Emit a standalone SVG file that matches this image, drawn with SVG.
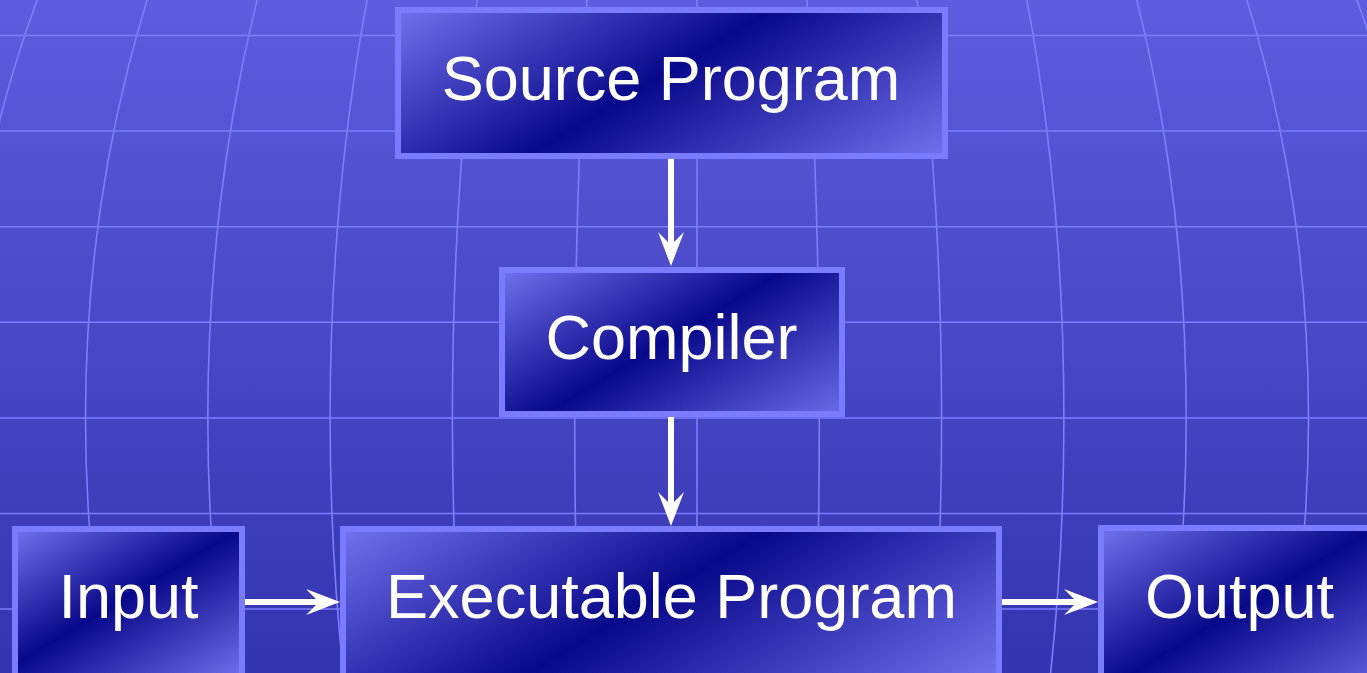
<svg xmlns="http://www.w3.org/2000/svg" width="1367" height="673" viewBox="0 0 1367 673">
  <style>
    .grid { fill: none; stroke: #7d7dff; stroke-width: 1.6; }
    .box { stroke: #7b7bff; stroke-width: 6; }
    .label { font-family: "Liberation Sans", Arial, sans-serif; font-size: 63px; fill: #ffffff; text-anchor: middle; }
    .wire { stroke: #ffffff; stroke-width: 6; fill: none; }
  </style>
  <defs>
    <linearGradient id="sky" x1="0" y1="0" x2="0" y2="1">
      <stop offset="0" stop-color="#5d5ddd"/>
      <stop offset="1" stop-color="#3434b0"/>
    </linearGradient>
    <!-- shared stops for the node fills: light corners, navy band across the middle -->
    <linearGradient id="nodeFill">
      <stop offset="0" stop-color="#7272ee"/>
      <stop offset="0.47" stop-color="#08088a"/>
      <stop offset="1" stop-color="#7272ee"/>
    </linearGradient>
    <linearGradient id="fillSource" href="#nodeFill" gradientUnits="userSpaceOnUse" x1="398" y1="10" x2="608" y2="360"/>
    <linearGradient id="fillCompiler" href="#nodeFill" gradientUnits="userSpaceOnUse" x1="502" y1="270" x2="661" y2="535"/>
    <linearGradient id="fillInput" href="#nodeFill" gradientUnits="userSpaceOnUse" x1="15" y1="529" x2="142" y2="740"/>
    <linearGradient id="fillExec" href="#nodeFill" gradientUnits="userSpaceOnUse" x1="343" y1="529" x2="583" y2="929"/>
    <linearGradient id="fillOutput" href="#nodeFill" gradientUnits="userSpaceOnUse" x1="1101" y1="528" x2="1255" y2="785"/>
    <marker id="head" markerUnits="userSpaceOnUse" viewBox="0 0 34 26" markerWidth="34" markerHeight="26" refX="13" refY="13" orient="auto">
      <path d="M34,13 L0,0 L13,13 L0,26 Z" fill="#ffffff"/>
    </marker>
  </defs>

  <!-- backdrop with curved globe-style grid -->
  <g id="background">
    <rect x="0" y="0" width="1367" height="673" fill="url(#sky)"/>
    <g class="grid">
      <line x1="0" y1="35.5" x2="1367" y2="35.5"/>
      <line x1="0" y1="131" x2="1367" y2="131"/>
      <line x1="0" y1="226.7" x2="1367" y2="226.7"/>
      <line x1="0" y1="322.3" x2="1367" y2="322.3"/>
      <line x1="0" y1="418" x2="1367" y2="418"/>
      <line x1="0" y1="513.5" x2="1367" y2="513.5"/>
      <line x1="0" y1="609" x2="1367" y2="609"/>
      <line x1="697" y1="0" x2="697" y2="673"/>
      <ellipse cx="697" cy="418" rx="122.3" ry="955"/>
      <ellipse cx="697" cy="418" rx="244.6" ry="955"/>
      <ellipse cx="697" cy="418" rx="366.9" ry="955"/>
      <ellipse cx="697" cy="418" rx="489.2" ry="955"/>
      <ellipse cx="697" cy="418" rx="611.5" ry="955"/>
      <ellipse cx="697" cy="418" rx="733.8" ry="955"/>
    </g>
  </g>

  <g id="connectors">
    <line class="wire" x1="671" y1="159" x2="671" y2="245" marker-end="url(#head)"/>
    <line class="wire" x1="671" y1="417" x2="671" y2="505" marker-end="url(#head)"/>
    <line class="wire" x1="245" y1="602" x2="319" y2="602" marker-end="url(#head)"/>
    <line class="wire" x1="1002" y1="602" x2="1077" y2="602" marker-end="url(#head)"/>
  </g>

  <g id="source-program">
    <rect class="box" x="398" y="10" width="547" height="146" fill="url(#fillSource)"/>
    <text class="label" x="671" y="100">Source Program</text>
  </g>

  <g id="compiler">
    <rect class="box" x="502" y="270" width="340" height="144" fill="url(#fillCompiler)"/>
    <text class="label" x="671.5" y="359">Compiler</text>
  </g>

  <g id="input">
    <rect class="box" x="15" y="529" width="227" height="150" fill="url(#fillInput)"/>
    <text class="label" x="128.5" y="618">Input</text>
  </g>

  <g id="executable-program">
    <rect class="box" x="343" y="529" width="656" height="150" fill="url(#fillExec)"/>
    <text class="label" x="671.5" y="618">Executable Program</text>
  </g>

  <g id="output">
    <rect class="box" x="1101" y="528" width="300" height="150" fill="url(#fillOutput)"/>
    <text class="label" x="1239.5" y="618">Output</text>
  </g>
</svg>
